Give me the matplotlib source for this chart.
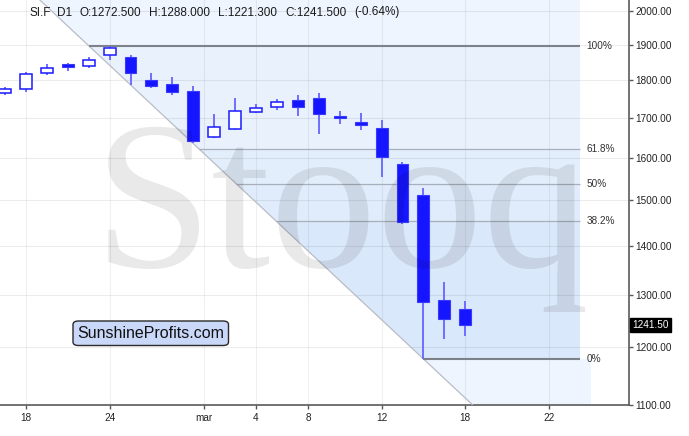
import numpy as np
import matplotlib
matplotlib.use('Agg')
import matplotlib.pyplot as plt
from matplotlib.patches import Rectangle, Polygon, FancyBboxPatch
from matplotlib.ticker import FixedLocator, NullLocator, FixedFormatter
import matplotlib.transforms as mtransforms

plt.rcParams['font.family'] = ['Liberation Sans', 'DejaVu Sans']

# ---------------- data ----------------
dates = ["02-17", "02-18", "02-19", "02-20", "02-21", "02-24", "02-25", "02-26",
         "02-27", "02-28", "03-02", "03-03", "03-04", "03-05", "03-06", "03-09",
         "03-10", "03-11", "03-12", "03-13", "03-16", "03-17", "03-18"]
opens = [1765.0, 1775.8, 1819.5, 1845.4, 1839.7, 1870.8, 1865.9, 1801.0,
         1790.2, 1771.2, 1652.4, 1671.2, 1716.0, 1728.4, 1747.4, 1751.9,
         1706.0, 1690.0, 1674.6, 1585.3, 1512.5, 1289.5, 1272.5]
highs = [1780.7, 1823.8, 1845.4, 1849.0, 1864.2, 1897.4, 1870.8, 1819.5,
         1810.1, 1784.0, 1711.0, 1751.9, 1736.8, 1749.6, 1760.6, 1765.0,
         1717.4, 1713.3, 1695.2, 1590.9, 1527.9, 1324.5, 1288.0]
lows = [1760.6, 1769.4, 1815.6, 1825.9, 1835.0, 1856.6, 1787.4, 1778.5,
        1760.6, 1636.1, 1648.5, 1669.4, 1713.3, 1719.6, 1706.0, 1659.3,
        1684.3, 1669.4, 1553.6, 1447.3, 1179.3, 1215.4, 1221.3]
closes = [1775.8, 1816.7, 1833.4, 1836.1, 1856.6, 1889.9, 1821.1, 1785.6,
          1769.4, 1641.8, 1677.1, 1718.9, 1727.3, 1742.3, 1729.6, 1709.4,
          1698.9, 1681.5, 1603.0, 1452.4, 1285.0, 1252.7, 1241.5]

x_tick_pos = [1, 5, 9.5, 12, 14.5, 18, 22, 26]
x_tick_labels = ["18", "24", "mar", "4", "8", "12", "18", "22"]
y_ticks = [1100, 1200, 1300, 1400, 1500, 1600, 1700, 1800, 1900, 2000]

fib_high = 1897.4
fib_low = 1179.3
fib_high_idx = 4
fib_low_idx = 20
fib_levels = [1.0, 0.618, 0.5, 0.382, 0.0]
fib_labels = ["100%", "61.8%", "50%", "38.2%", "0%"]

title_parts = ["SI.F", "D1", "O:1272.500", "H:1288.000", "L:1221.300",
               "C:1241.500", "(-0.64%)"]
last_price = 1241.5

# ---------------- figure ----------------
W, H = 689, 436
fig = plt.figure(figsize=(W / 100, H / 100), dpi=100)
ax_right_px = 629
ax_bottom_px = 404.7
ax = fig.add_axes([0, (H - ax_bottom_px) / H, ax_right_px / W, ax_bottom_px / H])
ax.set_facecolor('white')

px_per_idx = 20.92
x0 = -5 / px_per_idx
x1 = (ax_right_px - 5) / px_per_idx
ymin, ymax = 1100, 2033.7
ax.set_yscale('log')
ax.set_xlim(x0, x1)
ax.set_ylim(ymin, ymax)

# grid
for yv in y_ticks:
    ax.axhline(yv, color='black', alpha=0.075, lw=0.8, zorder=1.5)
for xv in x_tick_pos:
    ax.axvline(xv, color='black', alpha=0.06, lw=0.8, zorder=1.5)

# fib diagonal (straight in log space)
lnH, lnL = np.log(fib_high), np.log(fib_low)
def x_at(p):
    return fib_high_idx + (np.log(p) - lnH) * (fib_low_idx - fib_high_idx) / (lnL - lnH)

fib_prices = [fib_low + l * (fib_high - fib_low) for l in fib_levels]
x_end = 27.5
x_end_low = 28.0

band_edges = [ymax] + fib_prices
band_colors = ['#eef5fe', '#e9f1fd', '#e3eefc', '#e0ecfc', '#dae8fb']
for i in range(len(band_edges) - 1):
    ptop, pbot = band_edges[i], band_edges[i + 1]
    poly = Polygon([(x_at(ptop), ptop), (x_end, ptop), (x_end, pbot), (x_at(pbot), pbot)],
                   closed=True, facecolor=band_colors[i], edgecolor='none', zorder=1)
    ax.add_patch(poly)
poly = Polygon([(x_at(fib_low), fib_low), (x_end_low, fib_low), (x_end_low, ymin), (x_at(ymin), ymin)],
               closed=True, facecolor='#eef5fe', edgecolor='none', zorder=1)
ax.add_patch(poly)

ax.plot([x_at(ymax), x_at(ymin)], [ymax, ymin], color='#b9bdc5', lw=0.9, zorder=3)

for l, p, lab in zip(fib_levels, fib_prices, fib_labels):
    major = l in (0.0, 1.0)
    ax.plot([x_at(p), x_end], [p, p], color='#7c818a' if major else '#a7afba',
            lw=1.5 if major else 0.9, zorder=3, solid_capstyle='butt')
    ax.text(x_end + 0.28, p, lab, fontsize=7.2, color='#333333', va='center', ha='left', zorder=5)

# watermark
fig.text(94 / W, 1 - 267 / H, "Stooq", family=['Liberation Serif', 'DejaVu Serif'],
         fontsize=153, color='black', alpha=0.085, ha='left', va='baseline', zorder=2)

# candles
bw = 0.57
for i, (o, h, l, c) in enumerate(zip(opens, highs, lows, closes)):
    ax.plot([i, i], [l, h], color='#6e6eff', lw=1.4, zorder=4, solid_capstyle='butt')
    lo, hi = min(o, c), max(o, c)
    if c < o:
        rect = Rectangle((i - bw / 2, lo), bw, hi - lo, facecolor='#1515ff',
                         edgecolor='#3a3aff', lw=0.8, zorder=5)
    else:
        rect = Rectangle((i - bw / 2, lo), bw, hi - lo, facecolor='white',
                         edgecolor='#1a1aff', lw=1.1, zorder=5)
    ax.add_patch(rect)

# axes styling
for s in ['left', 'top']:
    ax.spines[s].set_visible(False)
for s in ['right', 'bottom']:
    ax.spines[s].set_color('#5a5a5a')
    ax.spines[s].set_linewidth(1.2)
ax.yaxis.tick_right()
ax.yaxis.set_major_locator(FixedLocator(y_ticks))
ax.yaxis.set_major_formatter(FixedFormatter(["%.2f" % v for v in y_ticks]))
ax.yaxis.set_minor_locator(NullLocator())
ax.xaxis.set_major_locator(FixedLocator(x_tick_pos))
ax.xaxis.set_major_formatter(FixedFormatter(x_tick_labels))
ax.xaxis.set_minor_locator(NullLocator())
ax.tick_params(axis='y', which='major', direction='out', length=3, width=1, color='#5a5a5a',
               pad=1.5, labelsize=7.2, labelcolor='#222222')
ax.tick_params(axis='x', which='major', direction='out', length=3, width=1, color='#5a5a5a',
               pad=3, labelsize=7.2, labelcolor='#222222')

# last price box
trans = mtransforms.blended_transform_factory(ax.transAxes, ax.transData)
ax.text(1 + 3 / ax_right_px, last_price, "%.2f" % last_price, transform=trans,
        fontsize=7.2, color='white', va='center', ha='left', zorder=10, clip_on=False,
        bbox=dict(boxstyle='square,pad=0.22', facecolor='black', edgecolor='black'))

# title
title_x = [29, 57.3, 79.3, 149, 218.3, 285.7, 354]
for t, xp in zip(title_parts, title_x):
    fig.text(xp / W, 1 - 12.5 / H, t, fontsize=8.5, color='#1a1a1a', ha='left', va='center')

# logo
bx0, bx1, by0, by1 = 73, 228.5, 321, 345.5
box = FancyBboxPatch((bx0 / W, 1 - by1 / H), (bx1 - bx0) / W, (by1 - by0) / H,
                     boxstyle='round,pad=0,rounding_size=0.008', transform=fig.transFigure,
                     facecolor='#c9d8f8', edgecolor='#2a2a2a', lw=1.0, zorder=20)
fig.add_artist(box)
fig.text((bx0 + bx1) / 2 / W, 1 - (by0 + by1) / 2 / H, "SunshineProfits.com",
         fontsize=11.5, color='#111111', ha='center', va='center', zorder=21)

fig.savefig('out.png', dpi=100)
